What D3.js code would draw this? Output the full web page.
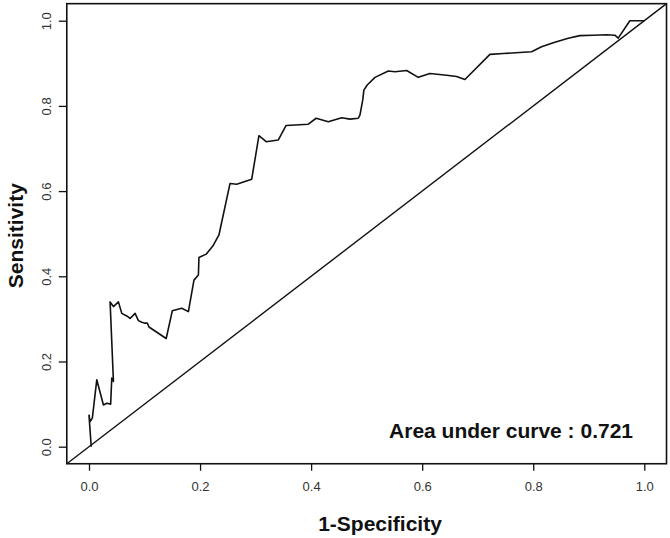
<!DOCTYPE html>
<html>
<head>
<meta charset="utf-8">
<script src="https://cdn.jsdelivr.net/npm/d3@7"></script>
<style>
  body { margin: 0; background: #fff; }
  svg { display: block; font-family: "Liberation Sans", Arial, sans-serif; }
</style>
</head>
<body>
<script>
// ROC curve points (1-specificity, sensitivity)
var fpr = [0.004, 0.000, 0.002, 0.006, 0.014, 0.026, 0.032, 0.039, 0.041, 0.044,
           0.038, 0.044, 0.053, 0.059, 0.068, 0.074, 0.083, 0.089, 0.095, 0.101,
           0.105, 0.108, 0.139, 0.150, 0.167, 0.179, 0.189, 0.197, 0.198, 0.211,
           0.224, 0.234, 0.254, 0.266, 0.293, 0.306, 0.319, 0.341, 0.355, 0.395,
           0.409, 0.431, 0.455, 0.470, 0.485, 0.488, 0.493, 0.495, 0.501, 0.515,
           0.539, 0.551, 0.572, 0.593, 0.614, 0.644, 0.662, 0.677, 0.722, 0.746,
           0.797, 0.815, 0.836, 0.863, 0.884, 0.908, 0.932, 0.947, 0.953, 0.974,
           0.998, 1.000];
var tpr = [0.000, 0.074, 0.059, 0.067, 0.157, 0.098, 0.102, 0.100, 0.161, 0.153,
           0.340, 0.329, 0.340, 0.313, 0.307, 0.301, 0.313, 0.296, 0.292, 0.290,
           0.290, 0.281, 0.254, 0.319, 0.325, 0.317, 0.391, 0.403, 0.444, 0.452,
           0.473, 0.497, 0.618, 0.616, 0.628, 0.730, 0.716, 0.720, 0.754, 0.757,
           0.771, 0.763, 0.772, 0.769, 0.771, 0.779, 0.814, 0.837, 0.849, 0.867,
           0.882, 0.880, 0.883, 0.867, 0.876, 0.872, 0.869, 0.862, 0.921, 0.923,
           0.927, 0.939, 0.948, 0.959, 0.965, 0.966, 0.967, 0.966, 0.959, 1.000,
           1.000, 1.000];
var ticks = [0, 0.2, 0.4, 0.6, 0.8, 1.0];
var aucLabel = "Area under curve : 0.721";

var width = 670, height = 538;

var x = d3.scaleLinear().domain([0, 1]).range([89, 644.3]);
var y = d3.scaleLinear().domain([0, 1]).range([446.7, 20.7]);

var svg = d3.select("body").append("svg")
    .attr("width", width)
    .attr("height", height);

var x0 = x(-0.04), x1 = x(1.04), y0 = y(-0.04), y1 = y(1.04);

// x axis
var xAxis = svg.append("g")
    .attr("transform", "translate(0," + y0 + ")")
    .call(d3.axisBottom(x).tickValues(ticks).tickFormat(d3.format(".1f")).tickSize(7).tickPadding(11));
xAxis.select(".domain").remove();
xAxis.selectAll("line").attr("stroke", "#111").attr("stroke-width", 1.3);
xAxis.selectAll("text").attr("font-size", 13).attr("fill", "#333")
    .style("font-family", "Liberation Sans, Arial, sans-serif");

// y axis, labels rotated like R
var yAxis = svg.append("g")
    .attr("transform", "translate(" + x0 + ",0)")
    .call(d3.axisLeft(y).tickValues(ticks).tickFormat(d3.format(".1f")).tickSize(8));
yAxis.select(".domain").remove();
yAxis.selectAll("line").attr("stroke", "#111").attr("stroke-width", 1.3);
yAxis.selectAll("text")
    .attr("font-size", 13).attr("fill", "#333")
    .style("font-family", "Liberation Sans, Arial, sans-serif")
    .attr("x", null).attr("dy", null)
    .attr("text-anchor", "middle")
    .attr("transform", "translate(-16,0) rotate(-90)");

// diagonal reference line
svg.append("line")
    .attr("x1", x0).attr("y1", y0)
    .attr("x2", x1).attr("y2", y1)
    .attr("stroke", "#111").attr("stroke-width", 1.4);

// ROC curve
var pts = fpr.map(function (d, i) { return [d, tpr[i]]; });
svg.append("path")
    .datum(pts)
    .attr("fill", "none")
    .attr("stroke", "#111")
    .attr("stroke-width", 1.6)
    .attr("stroke-linejoin", "round")
    .attr("d", d3.line().x(function (d) { return x(d[0]); }).y(function (d) { return y(d[1]); }));

// box
svg.append("rect")
    .attr("x", x0).attr("y", y1)
    .attr("width", x1 - x0).attr("height", y0 - y1)
    .attr("fill", "none").attr("stroke", "#111").attr("stroke-width", 1.6);

// AUC text
svg.append("text")
    .attr("x", 633).attr("y", 437.5)
    .attr("text-anchor", "end")
    .attr("font-size", 21).attr("font-weight", "bold").attr("fill", "#111")
    .text(aucLabel);

// axis titles
svg.append("text")
    .attr("x", 380).attr("y", 531)
    .attr("text-anchor", "middle")
    .attr("font-size", 21).attr("font-weight", "bold").attr("fill", "#111")
    .text("1-Specificity");

svg.append("text")
    .attr("transform", "translate(23," + ((y0 + y1) / 2 + 2) + ") rotate(-90)")
    .attr("text-anchor", "middle")
    .attr("font-size", 21).attr("font-weight", "bold").attr("fill", "#111")
    .text("Sensitivity");
</script>
</body>
</html>
